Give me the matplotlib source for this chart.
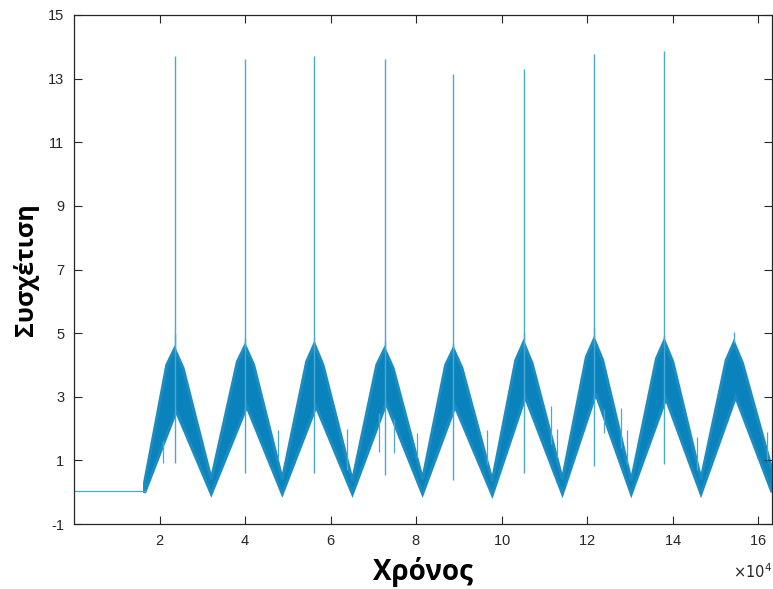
import matplotlib
matplotlib.use('Agg')
import matplotlib.pyplot as plt
from matplotlib.ticker import ScalarFormatter

# values (x in samples, y in correlation units)
flat_x = [0, 16500]
flat_y = [0.05, 0.05]

peak_x = [23500, 40000, 56200, 72600, 88700, 105100, 121600, 138000, 154300]
peak_hi = [4.5, 4.6, 4.65, 4.5, 4.5, 4.7, 4.8, 4.75, 4.7]
peak_tip = [5.0, 4.85, 4.85, 4.75, 4.7, 5.0, 5.15, 4.95, 5.05]
peak_lo = [2.55, 2.7, 2.7, 2.8, 2.7, 3.0, 3.1, 2.95, 3.0]
# upper edge just before / after each peak (rounded tops)
rise_sh = [4.0, 4.1, 4.1, 4.0, 4.0, 4.15, 4.25, 4.2, 4.15]
fall_sh = [3.9, 4.0, 4.0, 3.9, 3.9, 4.05, 4.15, 4.1, 4.05]

valley_x = [32100, 48700, 65100, 81500, 97800, 114200, 130300, 146600]
valley_hi = [0.4, 0.4, 0.35, 0.4, 0.35, 0.4, 0.35, 0.4]
valley_lo = [-0.05, -0.05, -0.05, -0.05, -0.08, -0.05, -0.05, -0.05]

band_start_x, band_start_hi, band_start_lo = 16500, 0.3, -0.02
band_end_x, band_end_hi, band_end_lo = 163200, 0.7, 0.0

spike_x = [23500, 40000, 56200, 72600, 88700, 105100, 121600, 138000]
spike_top = [13.71, 13.61, 13.71, 13.61, 13.14, 13.30, 13.77, 13.87]
spike_bot = [0.92, 0.6, 0.6, 0.54, 0.39, 0.6, 0.83, 0.89]

whisker_x = [20700, 47600, 63900, 71400, 74900, 80300, 96600, 111600,
             113000, 124000, 128000, 129400, 145700, 162000]
whisker_lo = [0.92, 1.0, 0.7, 1.27, 1.24, 1.1, 0.9, 1.5,
              1.1, 1.87, 1.4, 0.9, 0.7, 1.0]
whisker_hi = [1.6, 1.96, 2.0, 2.5, 2.3, 1.87, 1.96, 2.7,
              2.0, 2.6, 2.65, 1.96, 1.74, 1.9]

blue = '#0a82bb'
light = '#4aa8d4'
plt.rcParams['axes.unicode_minus'] = False
plt.rcParams['font.family'] = ['Liberation Sans', 'DejaVu Sans']

fig = plt.figure(figsize=(7.73, 5.89), dpi=100)
ax = fig.add_axes([74 / 773, 1 - 524 / 589, 698 / 773, 509 / 589])

# noise band as polygon: upper edge out, lower edge back
ux = [band_start_x]
uy = [band_start_hi]
lx = [band_start_x]
ly = [band_start_lo]
for i in range(len(peak_x)):
    ux += [peak_x[i] - 1800, peak_x[i], peak_x[i] + 2000]
    uy += [rise_sh[i], peak_hi[i], fall_sh[i]]
    lx.append(peak_x[i] + 400); ly.append(peak_lo[i])
    if i < len(valley_x):
        ux.append(valley_x[i]); uy.append(valley_hi[i])
        lx.append(valley_x[i]); ly.append(valley_lo[i])
ux.append(band_end_x); uy.append(band_end_hi)
lx.append(band_end_x); ly.append(band_end_lo)

ax.fill(ux + lx[::-1], uy + ly[::-1], color=blue, lw=2.2, ec='#1a8cc2',
        joinstyle='miter')
ax.plot(flat_x, flat_y, color=light, lw=0.9)
ax.vlines(spike_x, spike_bot, spike_top, color=light, lw=1.0)
ax.vlines(peak_x, peak_hi, peak_tip, color=light, lw=1.0)
ax.vlines(whisker_x, whisker_lo, whisker_hi, color=light, lw=0.9)

ax.set_xlim(0, 163200)
ax.set_ylim(-1, 15)
ax.set_xticks(range(20000, 160001, 20000))
ax.set_yticks(range(-1, 16, 2))

fmt = ScalarFormatter(useMathText=True)
fmt.set_powerlimits((4, 4))
ax.xaxis.set_major_formatter(fmt)
ax.xaxis.get_offset_text().set_visible(False)
ax.text(1.0, -0.075, r'$\times10^{4}$', transform=ax.transAxes,
        ha='right', va='top', fontsize=10.5, color='#262626')

ax.tick_params(direction='in', top=True, right=True, length=5.5, width=0.8,
               colors='#262626', labelsize=10.5, pad=7)
for s in ax.spines.values():
    s.set_color('#262626')
    s.set_linewidth(0.9)

ax.set_xlabel('Χρόνος', fontsize=20, fontweight='bold', family='Open Sans',
              va='bottom')
ax.set_ylabel('Συσχέτιση', fontsize=18, fontweight='bold', family='Open Sans')
ax.xaxis.set_label_coords(0.5, -0.123)
ax.yaxis.set_label_coords(-0.05, 0.5)

fig.savefig('out.png', dpi=100)
